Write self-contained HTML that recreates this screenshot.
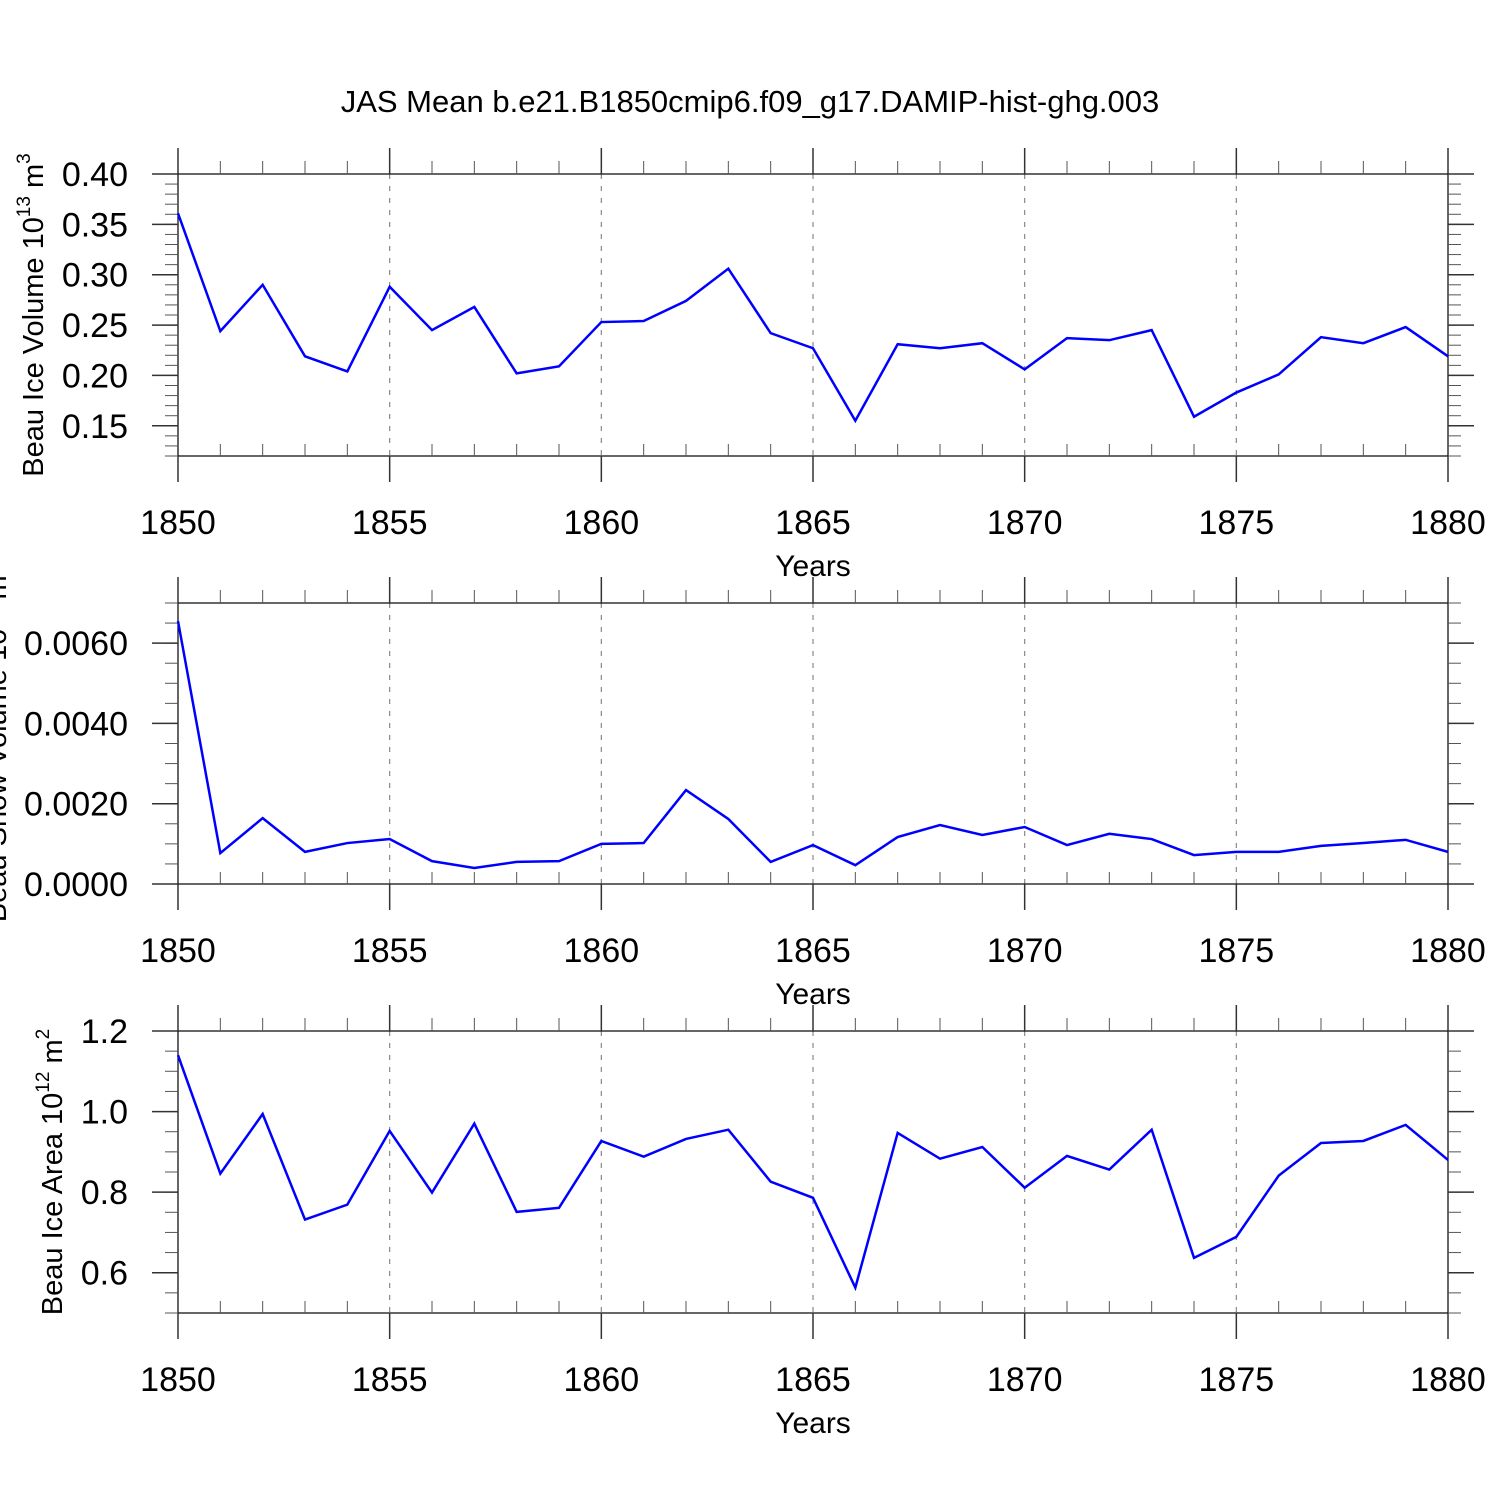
<!DOCTYPE html>
<html><head><meta charset="utf-8"><style>
html,body{margin:0;padding:0;background:#fff;}
svg{display:block;font-family:"Liberation Sans",sans-serif;}
</style></head><body>
<svg id="c" width="1500" height="1500" viewBox="0 0 1500 1500">
<text x="750" y="112" text-anchor="middle" font-size="31">JAS Mean b.e21.B1850cmip6.f09_g17.DAMIP-hist-ghg.003</text>
</svg>
<script>
const years = [1850,1851,1852,1853,1854,1855,1856,1857,1858,1859,1860,1861,1862,1863,1864,1865,1866,1867,1868,1869,1870,1871,1872,1873,1874,1875,1876,1877,1878,1879,1880];
const iceVolume = [0.361,0.244,0.290,0.219,0.204,0.288,0.245,0.268,0.202,0.209,0.253,0.254,0.274,0.306,0.242,0.227,0.155,0.231,0.227,0.232,0.206,0.237,0.235,0.245,0.159,0.183,0.201,0.238,0.232,0.248,0.219];
const snowVolume = [0.00655,0.00077,0.00164,0.0008,0.00102,0.00112,0.00057,0.0004,0.00055,0.00057,0.001,0.00102,0.00234,0.00162,0.00055,0.00097,0.00047,0.00117,0.00147,0.00122,0.00142,0.00097,0.00125,0.00112,0.00072,0.0008,0.0008,0.00095,0.00102,0.0011,0.0008];
const iceArea = [1.14,0.846,0.994,0.732,0.769,0.952,0.799,0.970,0.751,0.761,0.927,0.888,0.932,0.955,0.826,0.786,0.563,0.947,0.883,0.912,0.811,0.890,0.856,0.955,0.637,0.689,0.841,0.922,0.927,0.967,0.880];
const xTicks = [1850,1855,1860,1865,1870,1875,1880];
const yTicks1 = [0.15,0.20,0.25,0.30,0.35,0.40];
const yLabels1 = ["0.15","0.20","0.25","0.30","0.35","0.40"];
const yTicks2 = [0,0.002,0.004,0.006];
const yLabels2 = ["0.0000","0.0020","0.0040","0.0060"];
const yTicks3 = [0.6,0.8,1.0,1.2];
const yLabels3 = ["0.6","0.8","1.0","1.2"];

const NS="http://www.w3.org/2000/svg";
const svg=document.getElementById('c');
function mk(tag,attrs,parent){const e=document.createElementNS(NS,tag);for(const k in attrs)e.setAttribute(k,attrs[k]);(parent||svg).appendChild(e);return e;}
const L=178,R=1448;
function xs(yr){return L+(yr-1850)*(R-L)/30;}

function panel(cfg){
  const g=mk('g',{});
  
  
  const T=cfg.top,B=cfg.bottom;
  const ys=v=>B-(v-cfg.min)*(B-T)/(cfg.max-cfg.min);
  for(const t of xTicks.slice(1,-1)){
    const l=mk('line',{x1:xs(t),x2:xs(t),y1:T,y2:B,stroke:'#888','stroke-width':1.2,'stroke-dasharray':'5,7'},g);
    
    
  }
  const fr=mk('rect',{x:L,y:T,width:R-L,height:B-T,fill:'none',stroke:'#000','stroke-width':1.2},g);
  
  
  for(let yr=1850;yr<=1880;yr++){
    const x=xs(yr);
    if(yr%5===0){
      mk('line',{x1:x,x2:x,y1:T-26,y2:T,stroke:'#333','stroke-width':1.5},g);
      mk('line',{x1:x,x2:x,y1:B,y2:B+26,stroke:'#333','stroke-width':1.5},g);
      const tx=mk('text',{x:x,y:B+78,'text-anchor':'middle','font-size':34},g);
      tx.textContent=yr;
      
      
    } else {
      mk('line',{x1:x,x2:x,y1:T-13,y2:T,stroke:'#555','stroke-width':1},g);
      mk('line',{x1:x,x2:x,y1:B-12,y2:B,stroke:'#555','stroke-width':1},g);
    }
  }
  const xt=mk('text',{x:813,y:B+120,'text-anchor':'middle','font-size':30},g);
  xt.textContent='Years';
  
  
  const n=Math.round((cfg.max-cfg.min)/cfg.minor);
  for(let i=0;i<=n;i++){
    const y=ys(cfg.min+i*cfg.minor);
    mk('line',{x1:L-13,x2:L,y1:y,y2:y,stroke:'#555','stroke-width':1},g);
    mk('line',{x1:R,x2:R+13,y1:y,y2:y,stroke:'#555','stroke-width':1},g);
  }
  cfg.ticks.forEach((t,i)=>{
    const y=ys(t);
    mk('line',{x1:L-26,x2:L,y1:y,y2:y,stroke:'#333','stroke-width':1.5},g);
    mk('line',{x1:R,x2:R+26,y1:y,y2:y,stroke:'#333','stroke-width':1.5},g);
    const tx=mk('text',{x:128,y:y+12,'text-anchor':'end','font-size':34},g);
    tx.textContent=cfg.labels[i];
    
    
  });
  const yt=mk('text',{transform:`translate(${cfg.tx},${(T+B)/2}) rotate(-90)`,'text-anchor':'middle','font-size':29},g);
  yt.innerHTML=cfg.title;
  
  
  const pts=years.map((yr,i)=>xs(yr)+','+ys(cfg.data[i])).join(' ');
  const pl=mk('polyline',{points:pts,fill:'none',stroke:'#0000ff','stroke-width':2.5,'stroke-linejoin':'miter'},g);
  
  
}
panel({name:'ice-volume-panel',top:174,bottom:456,min:0.12,max:0.40,minor:0.01,ticks:yTicks1,labels:yLabels1,data:iceVolume,tx:43,
  title:'Beau Ice Volume 10<tspan dy="-13" font-size="19">13</tspan><tspan dy="13"> m</tspan><tspan dy="-13" font-size="19">3</tspan>'});
panel({name:'snow-volume-panel',top:603,bottom:884,min:0,max:0.007,minor:0.0005,ticks:yTicks2,labels:yLabels2,data:snowVolume,tx:6,
  title:'Beau Snow Volume 10<tspan dy="-13" font-size="19">13</tspan><tspan dy="13"> m</tspan><tspan dy="-13" font-size="19">3</tspan>'});
panel({name:'ice-area-panel',top:1031,bottom:1313,min:0.5,max:1.2,minor:0.05,ticks:yTicks3,labels:yLabels3,data:iceArea,tx:62,
  title:'Beau Ice Area 10<tspan dy="-13" font-size="19">12</tspan><tspan dy="13"> m</tspan><tspan dy="-13" font-size="19">2</tspan>'});
</script>
</body></html>
